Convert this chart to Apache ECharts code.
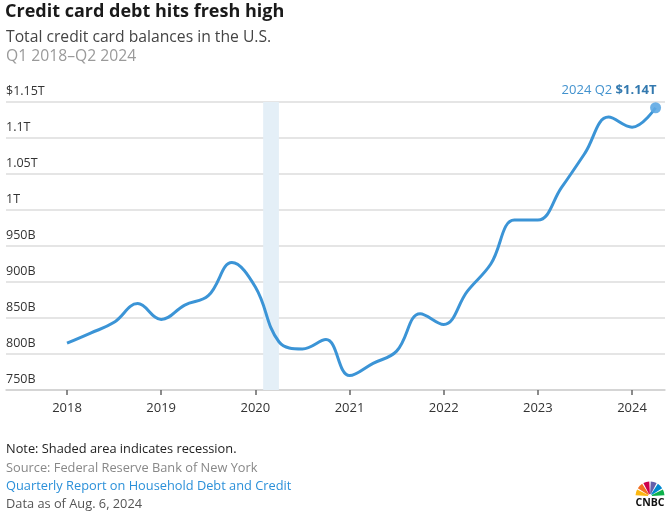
<!DOCTYPE html>
<html>
<head>
<meta charset="utf-8">
<script src="https://cdn.jsdelivr.net/npm/echarts@6/dist/echarts.min.js"></script>
<style>
html,body{margin:0;padding:0;background:#fff;}
#chart{width:672px;height:514px;}
</style>
</head>
<body>
<div id="chart"></div>
<script>
// Quarterly categories Q1 2018 – Q2 2024
const quarters = [
  'Q1 2018','Q2 2018','Q3 2018','Q4 2018',
  'Q1 2019','Q2 2019','Q3 2019','Q4 2019',
  'Q1 2020','Q2 2020','Q3 2020','Q4 2020',
  'Q1 2021','Q2 2021','Q3 2021','Q4 2021',
  'Q1 2022','Q2 2022','Q3 2022','Q4 2022',
  'Q1 2023','Q2 2023','Q3 2023','Q4 2023',
  'Q1 2024','Q2 2024'
];
// Total credit card balances, billions of dollars
const balances = [
  815, 829, 844, 870,
  848, 868, 881, 927,
  893, 817, 807, 820,
  770, 787, 804, 856,
  841, 887, 925, 986,
  986, 1031, 1079, 1129,
  1115, 1142
];
const yearTicks = [2018, 2019, 2020, 2021, 2022, 2023, 2024];
const yTickLabels = {750:'750B',800:'800B',850:'850B',900:'900B',950:'950B',1000:'1T',1050:'1.05T',1100:'1.1T',1150:'$1.15T'};
const recession = [2020.083, 2020.25]; // Feb 2020 – Apr 2020

function qToYear(q){
  const parts = q.split(' ');
  return parseInt(parts[1],10) + (parseInt(parts[0].slice(1),10)-1)/4;
}
const seriesData = quarters.map((q,i)=>[qToYear(q), balances[i]]);
const last = seriesData.length-1;

const FONT = '"Open Sans", Lato, sans-serif';
const BLUE = '#3b94d6';

const chart = echarts.init(document.getElementById('chart'), null, {renderer:'canvas'});

// peacock feathers for logo
const peacockColors = ['#fcb711','#f37021','#cc004c','#6460aa','#0089d0','#0db14b'];
const logoGraphics = peacockColors.map((c,i)=>({
  type:'sector',
  shape:{cx:650, cy:496, r0:2, r:14.5, startAngle: Math.PI + i*Math.PI/6 + 0.05, endAngle: Math.PI + (i+1)*Math.PI/6 - 0.05},
  style:{fill:c}
}));
logoGraphics.push({
  type:'text', x:650, y:498,
  style:{text:'CNBC', font:'bold 10.5px ' + FONT, fill:'#111', align:'center', verticalAlign:'top'}
});

const tStyle = (size, color, weight) => ({fontFamily:FONT, fontWeight:weight||'normal', fontSize:size, color:color});

const option = {
  animation:false,
  backgroundColor:'#fff',
  title:[
    {text:'Credit card debt hits fresh high', left:5, top:3, padding:0,
     textStyle:tStyle(18,'#1a1a1a','bold')},
    {text:'Total credit card balances in the U.S.', left:6, top:30, padding:0,
     textStyle:tStyle(15.7,'#444')},
    {text:'Q1 2018–Q2 2024', left:6, top:49, padding:0,
     textStyle:tStyle(15.7,'#9a9a9a')},
    {text:'Note: Shaded area indicates recession.', left:6, top:443, padding:0,
     textStyle:tStyle(12.8,'#222')},
    {text:'Source: Federal Reserve Bank of New York', left:6, top:462, padding:0,
     textStyle:tStyle(12.8,'#888')},
    {text:'Quarterly Report on Household Debt and Credit', left:6, top:480, padding:0,
     textStyle:tStyle(12.8,'#2b90d9')},
    {text:'Data as of Aug. 6, 2024', left:6, top:498, padding:0,
     textStyle:tStyle(12.8,'#555')}
  ],
  graphic: logoGraphics,
  grid:{left:6, right:7, top:102, bottom:124, containLabel:false},
  xAxis:{
    type:'value', min:2017.352, max:2024.35,
    axisLine:{show:true, onZero:false, lineStyle:{color:'#cfcfcf', width:1.5}},
    axisTick:{show:true, length:5, customValues:yearTicks, lineStyle:{color:'#666', width:1.5}},
    axisLabel:{customValues:yearTicks, margin:12, fontFamily:FONT, fontSize:13, color:'#333',
      formatter:v=>String(Math.round(v))},
    splitLine:{show:false}
  },
  yAxis:{
    type:'value', min:750, max:1150, interval:50,
    axisLine:{show:false}, axisTick:{show:false},
    axisLabel:{inside:true, verticalAlign:'bottom', margin:0, padding:[0,0,4,0],
      fontFamily:FONT, fontSize:12.5, color:'#333',
      formatter:v=>yTickLabels[v] || ''},
    splitLine:{show:true, lineStyle:{color:'#dcdcdc', width:1.5}}
  },
  series:[{
    type:'line',
    data: seriesData.map((d,i)=> i===last ? {
        value:d, symbol:'circle', symbolSize:11,
        itemStyle:{color:'#5ea8e3', opacity:0.9},
        label:{show:true, position:'top', align:'right', distance:5, offset:[1,0],
          formatter:'{a|2024 Q2 }{b|$1.14T}',
          rich:{a:{fontFamily:FONT, fontSize:13, color:'#2d86c9'},
                b:{fontFamily:FONT, fontSize:13, fontWeight:'bold', color:'#1d6aa6'}}}
      } : {value:d, symbol:'none'}),
    smooth:0.4,
    showSymbol:true,
    lineStyle:{color:BLUE, width:3},
    itemStyle:{color:BLUE},
    z:3,
    markArea:{
      silent:true,
      itemStyle:{color:'#e4eff7'},
      data:[[{xAxis:recession[0]},{xAxis:recession[1]}]]
    }
  }]
};
chart.setOption(option);
</script>
</body>
</html>
